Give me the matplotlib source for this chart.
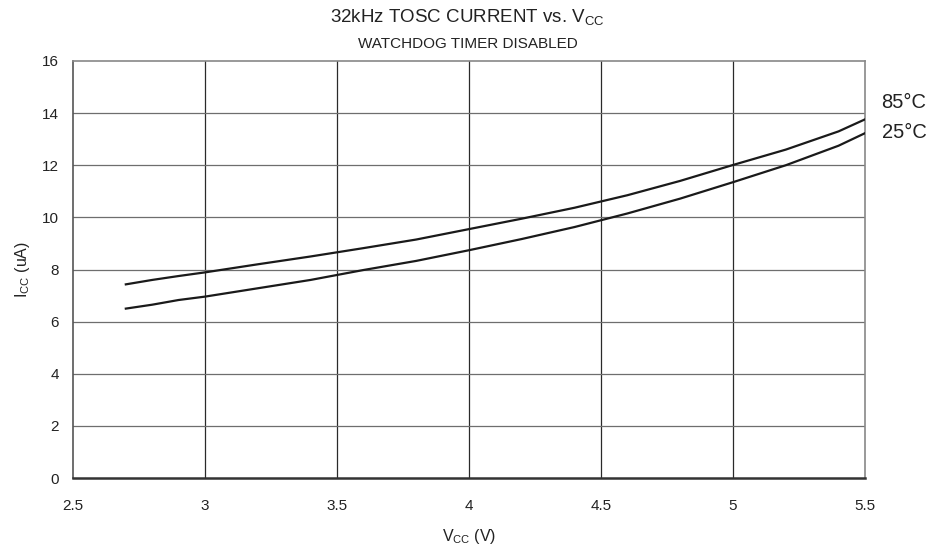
import matplotlib
matplotlib.use("Agg")
import matplotlib.pyplot as plt

plt.rcParams['font.family'] = ['Liberation Sans', 'DejaVu Sans']
plt.rcParams['mathtext.default'] = 'regular'

vcc = [2.7, 2.8, 2.9, 3.0, 3.2, 3.4, 3.6, 3.8, 4.0, 4.2, 4.4, 4.6, 4.8, 5.0, 5.2, 5.4, 5.5]
icc_85 = [7.43, 7.6, 7.75, 7.89, 8.2, 8.5, 8.82, 9.15, 9.55, 9.95, 10.37, 10.85, 11.4, 12.01, 12.6, 13.3, 13.76]
icc_25 = [6.5, 6.65, 6.83, 6.96, 7.28, 7.6, 7.98, 8.33, 8.74, 9.17, 9.63, 10.15, 10.72, 11.35, 12.0, 12.75, 13.23]
series_labels = ['85°C', '25°C']
xticks = [2.5, 3, 3.5, 4, 4.5, 5, 5.5]
xtick_labels = ['2.5', '3', '3.5', '4', '4.5', '5', '5.5']
yticks = [0, 2, 4, 6, 8, 10, 12, 14, 16]

fig = plt.figure(figsize=(9.35, 5.48), dpi=100)
ax = fig.add_axes([0.0781, 0.1277, 0.8470, 0.7610])

for xv in xticks[1:-1]:
    ax.axvline(xv, color='#2a2a2a', lw=0.9, zorder=1)
for yv in yticks[1:-1]:
    ax.axhline(yv, color='#6e6e6e', lw=0.9, zorder=1)

ax.plot(vcc, icc_85, color='#1a1a1a', lw=1.6, zorder=3)
ax.plot(vcc, icc_25, color='#1a1a1a', lw=1.6, zorder=3)

ax.set_xlim(2.5, 5.5)
ax.set_ylim(0, 16)
ax.set_xticks(xticks)
ax.set_xticklabels(xtick_labels)
ax.set_yticks(yticks)
ax.tick_params(length=0, labelsize=11, colors='#222222')
ax.tick_params(axis='x', pad=15)
ax.tick_params(axis='y', pad=10)
for s in ['top', 'right', 'left']:
    ax.spines[s].set_color('#888888')
    ax.spines[s].set_linewidth(1.2)
ax.spines['left'].set_color('#555555')
ax.spines['bottom'].set_color('#333333')
ax.spines['bottom'].set_linewidth(1.8)

ax.set_xlabel('V$_{CC}$ (V)', fontsize=11.5, labelpad=10, color='#222222')
ax.set_ylabel('I$_{CC}$ (uA)', fontsize=11.5, labelpad=7, color='#222222')

fig.text(0.5, 0.969, '32kHz TOSC CURRENT vs. V$_{CC}$', ha='center', va='center', fontsize=13.5, color='#222222')
fig.text(0.5, 0.920, 'WATCHDOG TIMER DISABLED', ha='center', va='center', fontsize=11, color='#222222')

ax.text(1.021, (478 - 103) / 417.0, series_labels[0], transform=ax.transAxes, fontsize=14.5, va='center', ha='left', color='#222222')
ax.text(1.021, (478 - 133) / 417.0, series_labels[1], transform=ax.transAxes, fontsize=14.5, va='center', ha='left', color='#222222')

fig.savefig('out.png', dpi=100)
